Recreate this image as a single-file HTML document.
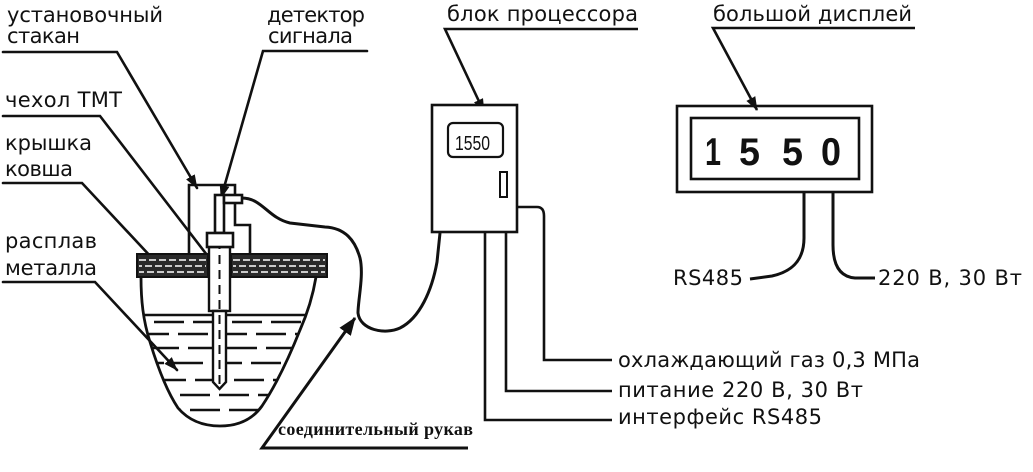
<!DOCTYPE html>
<html><head><meta charset="utf-8"><style>
html,body{margin:0;padding:0;background:#fff;}
svg{display:block;}
text{font-family:"DejaVu Sans","Liberation Sans",sans-serif;font-size:21px;fill:#111;}
.ser{font-family:"Liberation Serif","DejaVu Serif",serif;font-weight:bold;font-size:18px;}
.dig{font-family:"Liberation Sans",sans-serif;font-weight:bold;font-size:39px;}
</style></head><body>
<svg width="1033" height="472" viewBox="0 0 1033 472" xmlns="http://www.w3.org/2000/svg">
<defs>
<marker id="ah" markerUnits="userSpaceOnUse" markerWidth="14" markerHeight="10" refX="13" refY="5" orient="auto">
<path d="M0,0 L14,5 L0,10 Z" fill="#111"/>
</marker>
<marker id="ahb" markerUnits="userSpaceOnUse" markerWidth="18" markerHeight="14" refX="17" refY="7" orient="auto">
<path d="M0,0 L18,7 L0,14 Z" fill="#111"/>
</marker>
<clipPath id="ladle">
<path d="M141,277 C141,300 143,320 150,342 C157,365 166,390 178,408 C190,422 205,426 220,426 C238,426 252,420 262,406 C276,385 290,355 300,330 C308,312 313,295 316,277 Z"/>
</clipPath>
</defs>
<rect width="1033" height="472" fill="#fff"/>

<!-- LEFT LABELS -->
<text x="7" y="22" textLength="156" lengthAdjust="spacing">установочный</text>
<text x="7" y="43" textLength="73" lengthAdjust="spacing">стакан</text>
<text x="267" y="22" textLength="98" lengthAdjust="spacing">детектор</text>
<text x="268" y="43" textLength="85" lengthAdjust="spacing">сигнала</text>
<text x="5" y="107" textLength="117" lengthAdjust="spacing">чехол ТМТ</text>
<text x="5" y="150" textLength="87" lengthAdjust="spacing">крышка</text>
<text x="5" y="176" textLength="68" lengthAdjust="spacing">ковша</text>
<text x="5" y="248" textLength="92" lengthAdjust="spacing">расплав</text>
<text x="5" y="275" textLength="92" lengthAdjust="spacing">металла</text>

<g stroke="#111" stroke-width="2.6" fill="none" stroke-linecap="round">
<path d="M3,52 L117,52 L197,188" marker-end="url(#ah)"/>
<path d="M367,51 L263,51 L221,198" marker-end="url(#ah)"/>
<path d="M3,116 L100,116 L217,268"/>
<path d="M3,183 L82,183 L152,258"/>
<path d="M3,282 L95,282 L177,370" marker-end="url(#ah)"/>
</g>

<!-- LADLE BODY -->
<g clip-path="url(#ladle)" stroke="#111" stroke-width="2.4">
<line x1="130" y1="315" x2="330" y2="315"/>
<g stroke-dasharray="30 9">
<line x1="120" y1="322" x2="340" y2="322" stroke-dashoffset="5"/>
<line x1="120" y1="334" x2="340" y2="334" stroke-dashoffset="20"/>
<line x1="120" y1="348" x2="340" y2="348" stroke-dashoffset="10"/>
<line x1="120" y1="363" x2="340" y2="363" stroke-dashoffset="25"/>
<line x1="120" y1="380" x2="340" y2="380" stroke-dashoffset="3"/>
<line x1="120" y1="395" x2="340" y2="395" stroke-dashoffset="18"/>
<line x1="120" y1="410" x2="340" y2="410" stroke-dashoffset="8"/>
</g>
</g>
<path d="M141,277 C141,300 143,320 150,342 C157,365 166,390 178,408 C190,422 205,426 220,426 C238,426 252,420 262,406 C276,385 290,355 300,330 C308,312 313,295 316,277" fill="none" stroke="#111" stroke-width="2.8"/>

<!-- PROBE -->
<rect x="209" y="247" width="21" height="64" fill="#fff" stroke="#111" stroke-width="2.4"/>
<path d="M213,311 L213,382 L219.5,389 L226,382 L226,311 Z" fill="#fff" stroke="#111" stroke-width="2.4"/>
<line x1="219.5" y1="240" x2="219.5" y2="385" stroke="#111" stroke-width="2" stroke-dasharray="9 6"/>

<!-- LID -->
<g>
<rect x="137" y="254" width="71" height="23" fill="#2a2a2a" stroke="#111" stroke-width="2"/>
<rect x="231" y="254" width="96" height="23" fill="#2a2a2a" stroke="#111" stroke-width="2"/>
<g stroke="#fff" stroke-width="1.5" stroke-dasharray="7 3">
<line x1="139" y1="260" x2="206" y2="260"/>
<line x1="139" y1="266" x2="206" y2="266" stroke-dashoffset="4"/>
<line x1="139" y1="272" x2="206" y2="272" stroke-dashoffset="2"/>
<line x1="233" y1="260" x2="325" y2="260"/>
<line x1="233" y1="266" x2="325" y2="266" stroke-dashoffset="4"/>
<line x1="233" y1="272" x2="325" y2="272" stroke-dashoffset="2"/>
</g>
</g>

<!-- UPPER ASSEMBLY -->
<g stroke="#111" stroke-width="2.6" fill="none">
<path d="M189,253 L189,185 L235,185 L235,225 L250,225 L250,253"/>
<rect x="215" y="195" width="9" height="38" fill="#fff"/>
<rect x="224" y="195" width="18" height="8" fill="#fff"/>
<rect x="207" y="233" width="26" height="14" fill="#fff"/>
<path d="M242,198 C262,198 268,218 290,223 L325,227 C345,228 355,240 360,258 C364,275 358,300 358,313 C360,330 385,335 400,328 C420,318 432,290 437,262 L440,233" stroke-width="3"/>
</g>

<text class="ser" x="278" y="435" textLength="195" lengthAdjust="spacing">соединительный рукав</text>
<path d="M468,448 L262,448 L355,318" stroke="#111" stroke-width="3" fill="none" marker-end="url(#ahb)"/>

<!-- PROCESSOR -->
<text x="447" y="21" textLength="191" lengthAdjust="spacing">блок процессора</text>
<g stroke="#111" stroke-width="2.6" fill="none">
<path d="M638,29 L445,29 L484,112" marker-end="url(#ah)"/>
<rect x="432" y="105" width="85" height="127" fill="#fff"/>
<rect x="448" y="123" width="55" height="34" rx="5" stroke-width="2.2"/>
<rect x="500" y="172" width="7" height="25" stroke-width="2"/>
<path d="M517,207 L537,207 Q544,207 544,216 L544,360 L612,360"/>
<path d="M506,232 L506,391 L612,391"/>
<path d="M485,232 L485,420 L612,420"/>
</g>
<text x="455" y="150" style="font-family:'Liberation Sans',sans-serif;font-size:20px" textLength="35" lengthAdjust="spacingAndGlyphs">1550</text>

<text x="618" y="367" textLength="302" lengthAdjust="spacing">охлаждающий газ 0,3 МПа</text>
<text x="618" y="397" textLength="245" lengthAdjust="spacing">питание 220 В, 30 Вт</text>
<text x="618" y="424" textLength="204" lengthAdjust="spacing">интерфейс RS485</text>

<!-- BIG DISPLAY -->
<text x="713" y="21" textLength="199" lengthAdjust="spacing">большой дисплей</text>
<g stroke="#111" stroke-width="2.6" fill="none">
<path d="M915,28 L713,28 L757,110" marker-end="url(#ah)"/>
<rect x="677" y="106" width="195" height="86"/>
<rect x="691" y="118" width="168" height="61"/>
<path d="M804,192 L804,238 C804,262 790,272 772,276 L750,279" stroke-width="3"/>
<path d="M833,192 L833,245 C833,268 842,277 855,278 L875,278" stroke-width="3"/>
</g>
<text class="dig" x="705" y="165" textLength="16" lengthAdjust="spacingAndGlyphs">1</text>
<text class="dig" x="739" y="165" textLength="21" lengthAdjust="spacingAndGlyphs">5</text>
<text class="dig" x="782" y="165" textLength="21" lengthAdjust="spacingAndGlyphs">5</text>
<text class="dig" x="821" y="165" textLength="20" lengthAdjust="spacingAndGlyphs">0</text>

<text x="673" y="285" textLength="70" lengthAdjust="spacing">RS485</text>
<text x="878" y="285" textLength="144" lengthAdjust="spacing">220 В, 30 Вт</text>
</svg>
</body></html>
